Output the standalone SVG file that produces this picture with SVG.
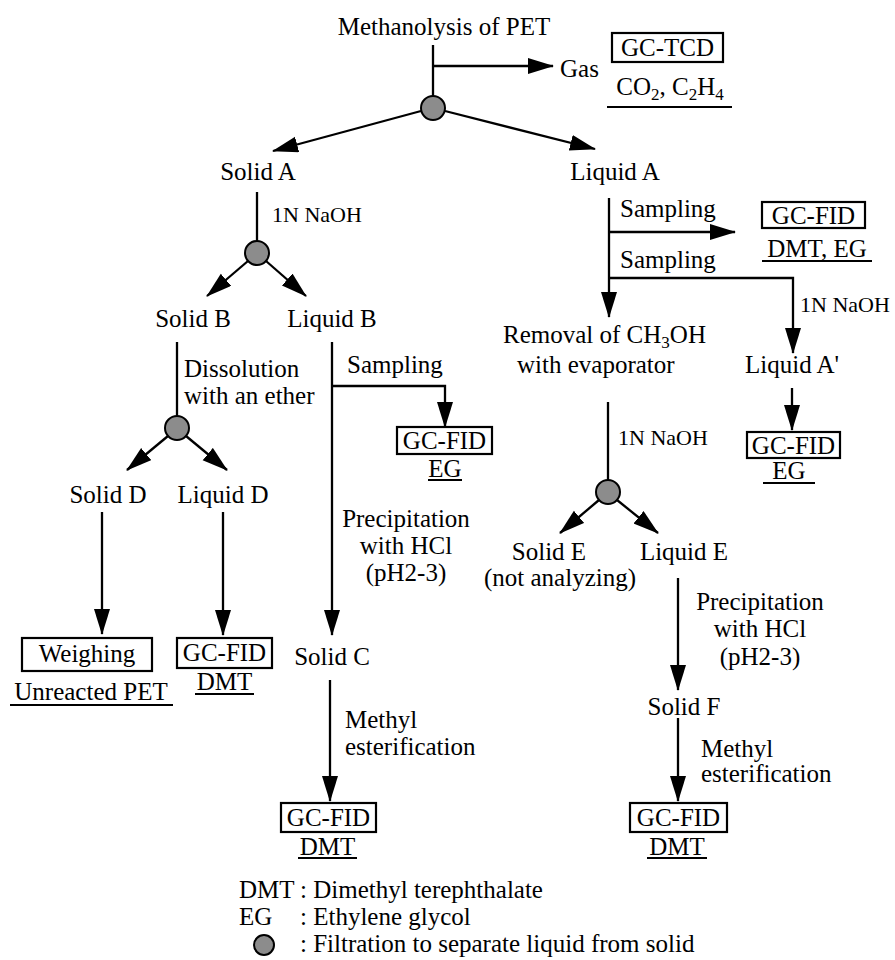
<svg xmlns="http://www.w3.org/2000/svg" width="895" height="960" viewBox="0 0 895 960" font-family="'Liberation Serif', Tinos, 'DejaVu Serif', serif">
<defs>
<marker id="arr" markerUnits="userSpaceOnUse" markerWidth="26" markerHeight="18" refX="25" refY="8" orient="auto">
<path d="M0,0 L26,8 L0,16 z" fill="#000"/>
</marker>
</defs>
<style>
text{font-family:'Liberation Serif',Tinos,'DejaVu Serif',serif;font-size:25px;fill:#000}
.s{font-size:22px}
.c{text-anchor:middle}
.sub{font-size:17px}
.ln{fill:none;stroke:#000;stroke-width:2.3}
.ar{fill:none;stroke:#000;stroke-width:2.3;marker-end:url(#arr)}
.box{fill:none;stroke:#000;stroke-width:2.2}
.ul{stroke:#000;stroke-width:2}
.flt{fill:#8c8c8c;stroke:#000;stroke-width:2}
</style>
<rect width="895" height="960" fill="#fff"/>

<g id="connectors">
<path class="ln" d="M433,45 V96"/>
<path class="ar" d="M433,66 H553"/>
<path class="ar" d="M421,111 L273,151"/>
<path class="ar" d="M445,111 L595,149"/>
<path class="ln" d="M257,192 V241"/>
<path class="ar" d="M248,261 L207,296"/>
<path class="ar" d="M266,261 L306,296"/>
<path class="ln" d="M177,342 V416"/>
<path class="ar" d="M168,436 L127,470"/>
<path class="ar" d="M186,436 L227,470"/>
<path class="ar" d="M102,512 V634"/>
<path class="ar" d="M223,512 V635"/>
<path class="ar" d="M332,342 V635"/>
<path class="ar" d="M332,386 H445 V427"/>
<path class="ar" d="M330,680 V801"/>
<path class="ar" d="M609,198 V317"/>
<path class="ar" d="M609,232 H735"/>
<path class="ar" d="M609,278 H793 V353"/>
<path class="ar" d="M792,388 V430"/>
<path class="ln" d="M608,402 V480"/>
<path class="ar" d="M599,500 L560,533"/>
<path class="ar" d="M617,500 L658,533"/>
<path class="ar" d="M678,578 V690"/>
<path class="ar" d="M678,718 V801"/>
</g>

<g id="methanolysis"><text class="c" x="444" y="35">Methanolysis of PET</text></g>
<g id="filter0"><circle class="flt" cx="433" cy="108" r="12"/></g>
<g id="gas"><text x="560" y="77">Gas</text></g>
<g id="gc-tcd">
<rect class="box" x="612" y="33" width="111" height="29"/>
<text class="c" x="667.5" y="56">GC-TCD</text>
<text class="c" x="670" y="95">CO<tspan class="sub" dy="5">2</tspan><tspan dy="-5">, C</tspan><tspan class="sub" dy="5">2</tspan><tspan dy="-5">H</tspan><tspan class="sub" dy="5">4</tspan></text>
<line class="ul" x1="607" y1="107" x2="732" y2="107"/>
</g>

<g id="solidA">
<text class="c" x="258" y="180">Solid A</text>
<text class="s" x="272" y="222">1N NaOH</text>
</g>
<g id="filter1"><circle class="flt" cx="257" cy="253" r="12"/></g>
<g id="solidB">
<text class="c" x="193" y="327">Solid B</text>
<text x="184" y="377">Dissolution</text>
<text x="184" y="404">with an ether</text>
</g>
<g id="filter2"><circle class="flt" cx="177" cy="428" r="12"/></g>
<g id="liquidB">
<text class="c" x="332" y="327">Liquid B</text>
<text x="347" y="373">Sampling</text>
</g>
<g id="gcfid-eg-b">
<rect class="box" x="397" y="427" width="95" height="27"/>
<text class="c" x="444.5" y="449">GC-FID</text>
<text class="c" x="445" y="477">EG</text>
<line class="ul" x1="428" y1="480" x2="462" y2="480"/>
</g>
<g id="solidD"><text class="c" x="108" y="503">Solid D</text></g>
<g id="liquidD"><text class="c" x="223" y="503">Liquid D</text></g>
<g id="weighing">
<rect class="box" x="22" y="638" width="130" height="33"/>
<text class="c" x="87" y="662">Weighing</text>
<text class="c" x="91" y="700">Unreacted PET</text>
<line class="ul" x1="10" y1="705" x2="173" y2="705"/>
</g>
<g id="gcfid-dmt-d">
<rect class="box" x="177" y="638" width="95" height="30"/>
<text class="c" x="224.5" y="661">GC-FID</text>
<text class="c" x="224.5" y="690">DMT</text>
<line class="ul" x1="195" y1="694" x2="254" y2="694"/>
</g>
<g id="precip-c">
<text class="c" x="406" y="527">Precipitation</text>
<text class="c" x="406" y="554">with HCl</text>
<text class="c" x="406" y="581">(pH2-3)</text>
</g>
<g id="solidC">
<text class="c" x="332" y="665">Solid C</text>
<text x="345" y="728">Methyl</text>
<text x="345" y="755">esterification</text>
</g>
<g id="gcfid-dmt-c">
<rect class="box" x="281" y="803" width="95" height="29"/>
<text class="c" x="328.5" y="826">GC-FID</text>
<text class="c" x="327.5" y="855">DMT</text>
<line class="ul" x1="298" y1="858" x2="357" y2="858"/>
</g>

<g id="liquidA">
<text class="c" x="615" y="180">Liquid A</text>
<text x="620" y="217">Sampling</text>
<text x="620" y="268">Sampling</text>
</g>
<g id="gcfid-dmteg">
<rect class="box" x="762" y="202" width="103" height="26"/>
<text class="c" x="813.5" y="224">GC-FID</text>
<text class="c" x="817" y="257">DMT, EG</text>
<line class="ul" x1="762" y1="261" x2="872" y2="261"/>
</g>
<g id="liquidA2">
<text class="s" x="800" y="312">1N NaOH</text>
<text x="745" y="373">Liquid A'</text>
</g>
<g id="gcfid-eg-a">
<rect class="box" x="747" y="432" width="93" height="26"/>
<text class="c" x="793.5" y="454">GC-FID</text>
<text class="c" x="789" y="479">EG</text>
<line class="ul" x1="763" y1="483" x2="815" y2="483"/>
</g>
<g id="removal">
<text x="503" y="343">Removal of CH<tspan class="sub" dy="5">3</tspan><tspan dy="-5">OH</tspan></text>
<text x="517" y="373">with evaporator</text>
<text class="s" x="618" y="445">1N NaOH</text>
</g>
<g id="filter3"><circle class="flt" cx="608" cy="492" r="12"/></g>
<g id="solidE">
<text class="c" x="549" y="560">Solid E</text>
<text class="c" x="560" y="586">(not analyzing)</text>
</g>
<g id="liquidE">
<text class="c" x="684" y="560">Liquid E</text>
<text class="c" x="760" y="610">Precipitation</text>
<text class="c" x="760" y="637">with HCl</text>
<text class="c" x="760" y="665">(pH2-3)</text>
</g>
<g id="solidF">
<text class="c" x="684" y="715">Solid F</text>
<text x="701" y="757">Methyl</text>
<text x="701" y="782">esterification</text>
</g>
<g id="gcfid-dmt-f">
<rect class="box" x="630" y="803" width="97" height="29"/>
<text class="c" x="678.5" y="826">GC-FID</text>
<text class="c" x="677" y="855">DMT</text>
<line class="ul" x1="647" y1="858" x2="707" y2="858"/>
</g>

<g id="legend">
<text x="239" y="898">DMT</text>
<text x="300" y="898">: Dimethyl terephthalate</text>
<text x="239" y="925">EG</text>
<text x="300" y="925">: Ethylene glycol</text>
<circle class="flt" cx="264" cy="945" r="10"/>
<text x="300" y="952">: Filtration to separate liquid from solid</text>
</g>
</svg>
